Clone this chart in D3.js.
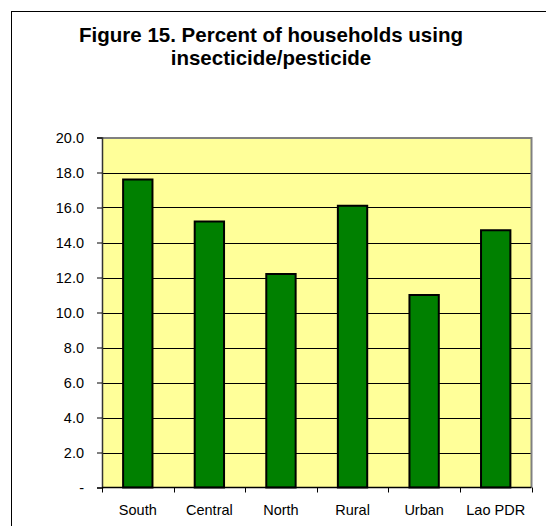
<!DOCTYPE html>
<meta charset="utf-8">
<style>
body { margin: 0; background: #fff; }
text { font-family: Arial, "Liberation Sans", sans-serif; fill: #000; }
.title { font-size: 20.5px; font-weight: bold; }
</style>
<body>
<script src="https://d3js.org/d3.v7.min.js"></script>
<script>

var regions = ["South", "Central", "North", "Rural", "Urban", "Lao PDR"];
var percent = [17.6, 15.2, 12.2, 16.1, 11.0, 14.7];
var yTicks = [0, 2, 4, 6, 8, 10, 12, 14, 16, 18, 20];
var titleLines = ["Figure 15. Percent of households using", "insecticide/pesticide"];

var W = 546, H = 526;
var plot = {left: 102, top: 137.5, right: 531.5, bottom: 487.5};

var svg = d3.select("body").append("svg")
    .attr("width", W)
    .attr("height", H);

// outer frame (right and bottom fall outside the picture)
svg.append("rect")
    .attr("x", 11.5).attr("y", 11.5)
    .attr("width", W).attr("height", H)
    .attr("fill", "#fff")
    .attr("stroke", "#000");

svg.append("text")
    .attr("class", "title")
    .attr("text-anchor", "middle")
  .selectAll("tspan")
  .data(titleLines)
  .enter().append("tspan")
    .attr("x", 271)
    .attr("y", function(d, i) { return 42 + i * 23; })
    .text(function(d) { return d; });

var x = d3.scaleBand()
    .domain(regions)
    .range([plot.left, plot.right]);

var y = d3.scaleLinear()
    .domain([0, 20])
    .range([plot.bottom, plot.top]);

// plot background
svg.append("rect")
    .attr("x", plot.left).attr("y", plot.top)
    .attr("width", plot.right - plot.left)
    .attr("height", plot.bottom - plot.top)
    .attr("fill", "#FFFF99");

// gridlines
svg.append("g")
  .selectAll("line")
  .data(yTicks.filter(function(d) { return d > 0 && d < 20; }))
  .enter().append("line")
    .attr("x1", plot.left).attr("x2", plot.right)
    .attr("y1", function(d) { return Math.round(y(d)) + 0.5; })
    .attr("y2", function(d) { return Math.round(y(d)) + 0.5; })
    .attr("stroke", "#000");

// top and right grey border
svg.append("path")
    .attr("d", "M" + plot.left + "," + (plot.top + 0.5) + "H" + plot.right + "V" + plot.bottom)
    .attr("fill", "none")
    .attr("stroke", "#808080")
    .attr("stroke-width", 2);

// bars
var barW = x.bandwidth() * 0.41;
svg.append("g")
  .selectAll("rect")
  .data(percent)
  .enter().append("rect")
    .attr("x", function(d, i) { return x(regions[i]) + (x.bandwidth() - barW) / 2; })
    .attr("y", function(d) { return y(d); })
    .attr("width", barW)
    .attr("height", function(d) { return y(0) - y(d); })
    .attr("fill", "#008000")
    .attr("stroke", "#000")
    .attr("stroke-width", 2);

// y axis
var yAxis = svg.append("g")
    .attr("transform", "translate(" + plot.left + ",0)")
    .call(d3.axisLeft(y)
      .tickValues(yTicks)
      .tickSize(5)
      .tickPadding(13)
      .tickFormat(function(d) { return d === 0 ? "-" : d.toFixed(1); }));
yAxis.attr("font-size", null).attr("font-family", null);
yAxis.select(".domain").attr("stroke", "#333").attr("stroke-width", 1.5);
yAxis.selectAll("text").style("font-size", "14.5px");

// x axis
var xAxis = svg.append("g")
    .attr("transform", "translate(0," + plot.bottom + ")")
    .call(d3.axisBottom(x).tickSize(0).tickPadding(17));
xAxis.attr("font-size", null).attr("font-family", null);
xAxis.select(".domain").remove();
xAxis.selectAll("text").style("font-size", "14.5px");
xAxis.append("line")
    .attr("x1", plot.left).attr("x2", plot.right)
    .attr("stroke", "#000").attr("stroke-width", 1.5);
xAxis.selectAll(".sep")
  .data(regions.concat(["end"]))
  .enter().append("line")
    .attr("class", "sep")
    .attr("x1", function(d, i) { return Math.round(plot.left + i * x.step()) + 0.5; })
    .attr("x2", function(d, i) { return Math.round(plot.left + i * x.step()) + 0.5; })
    .attr("y1", 0).attr("y2", 5)
    .attr("stroke", "#000");

</script>
